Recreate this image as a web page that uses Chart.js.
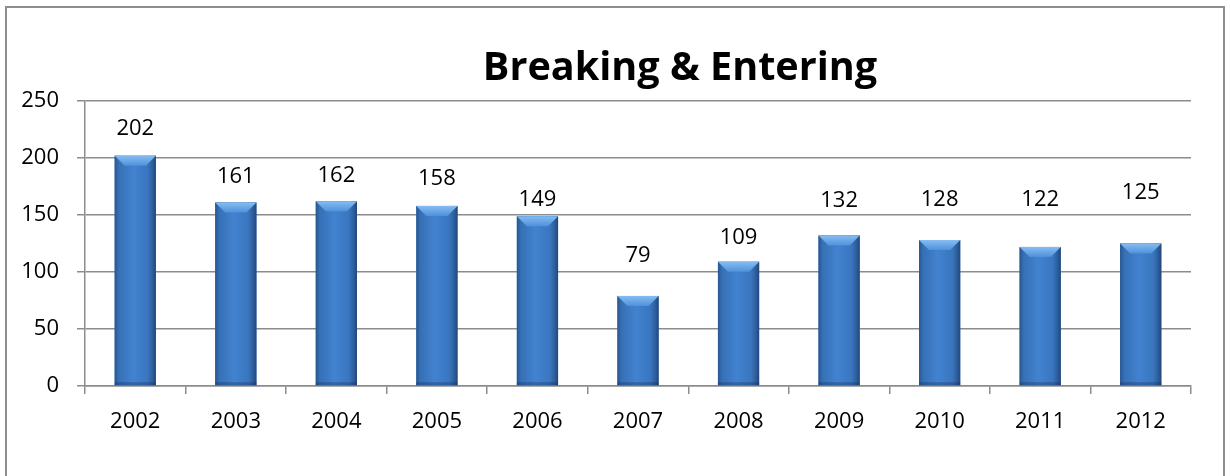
<!DOCTYPE html>
<html>
<head>
<meta charset="utf-8">
<title>Breaking & Entering</title>
<script src="https://cdn.jsdelivr.net/npm/chart.js@4.4.1/dist/chart.umd.min.js"></script>
<style>
    html, body { margin: 0; padding: 0; background: #fff; }
    #wrap { position: relative; width: 1230px; height: 476px; overflow: hidden; }
    #frame {
        position: absolute; left: 5px; top: 6px; width: 1220px; height: 490px;
        border: 2px solid #8e8e8e; box-sizing: border-box;
    }
    canvas { position: absolute; left: 0; top: 0; }
</style>
</head>
<body>
<div id="wrap">
    <div id="frame"></div>
    <canvas id="beChart" width="1230" height="476"></canvas>
</div>
<script>
// --- Data ---
const years = ['2002', '2003', '2004', '2005', '2006', '2007', '2008', '2009', '2010', '2011', '2012'];
const incidents = [202, 161, 162, 158, 149, 79, 109, 132, 128, 122, 125];
const yTicks = [0, 50, 100, 150, 200, 250];

// how far above each bar its value label sits (px), as placed in the original
const labelLift = [27, 26, 26, 27, 16, 40, 24, 35, 40, 47, 51];

const chartTitle = 'Breaking & Entering';
const baseFont = "'Open Sans', 'Noto Sans', sans-serif";

// Bevelled bar look: horizontal shading plus a lighter top facet
const barShade = {
    id: 'barShade',
    afterDatasetsDraw(chart) {
        const ctx = chart.ctx;
        chart.getDatasetMeta(0).data.forEach(bar => {
            const x0 = bar.x - bar.width / 2;
            const x1 = bar.x + bar.width / 2;
            const top = bar.y;
            const bottom = bar.base;
            const b = 10;

            const g = ctx.createLinearGradient(x0, 0, x1, 0);
            g.addColorStop(0, '#28568f');
            g.addColorStop(0.1, '#3670b6');
            g.addColorStop(0.45, '#4282cf');
            g.addColorStop(0.8, '#3a76c0');
            g.addColorStop(0.92, '#2d5e9b');
            g.addColorStop(1, '#21477a');
            ctx.save();
            ctx.fillStyle = g;
            ctx.fillRect(x0, top, x1 - x0, bottom - top);

            // top facet
            const tg = ctx.createLinearGradient(0, top, 0, top + b);
            tg.addColorStop(0, '#86bdf2');
            tg.addColorStop(1, '#4f91da');
            ctx.fillStyle = tg;
            ctx.beginPath();
            ctx.moveTo(x0, top);
            ctx.lineTo(x1, top);
            ctx.lineTo(x1 - b, top + b);
            ctx.lineTo(x0 + b, top + b);
            ctx.closePath();
            ctx.fill();

            // bottom edge, slightly darker
            ctx.fillStyle = 'rgba(20, 50, 95, 0.35)';
            ctx.fillRect(x0, bottom - 3, x1 - x0, 3);
            ctx.restore();
        });
    }
};

// Value labels above each bar
const valueLabels = {
    id: 'valueLabels',
    afterDatasetsDraw(chart) {
        const ctx = chart.ctx;
        const meta = chart.getDatasetMeta(0);
        ctx.save();
        ctx.font = `22px ${baseFont}`;
        ctx.fillStyle = '#000';
        ctx.textAlign = 'center';
        ctx.textBaseline = 'middle';
        meta.data.forEach((bar, i) => {
            ctx.fillText(String(incidents[i]), bar.x, bar.y - labelLift[i]);
        });
        ctx.restore();
    }
};

// Title, set a little right of centre as in the original
const titleText = {
    id: 'titleText',
    afterDraw(chart) {
        const ctx = chart.ctx;
        ctx.save();
        ctx.font = `bold 100px ${baseFont}`;
        const size = 100 * 394 / ctx.measureText(chartTitle).width;
        ctx.font = `bold ${size.toFixed(1)}px ${baseFont}`;
        ctx.fillStyle = '#000';
        ctx.textAlign = 'center';
        ctx.textBaseline = 'alphabetic';
        ctx.fillText(chartTitle, 680, 80);
        ctx.restore();
    }
};

document.addEventListener('DOMContentLoaded', () => {
    const ctx = document.getElementById('beChart').getContext('2d');
    new Chart(ctx, {
        type: 'bar',
        data: {
            labels: years,
            datasets: [{
                label: chartTitle,
                data: incidents,
                backgroundColor: '#3b78c0',
                borderWidth: 0,
                categoryPercentage: 1,
                barPercentage: 0.41
            }]
        },
        options: {
            responsive: false,
            animation: false,
            layout: { padding: { top: 101, right: 39, bottom: 0, left: 0 } },
            plugins: {
                legend: { display: false },
                title: { display: false },
                tooltip: { enabled: false }
            },
            scales: {
                x: {
                    offset: true,
                    grid: {
                        offset: true,
                        drawOnChartArea: false,
                        drawTicks: true,
                        tickLength: 8,
                        color: '#8c8c8c',
                        lineWidth: 1.5
                    },
                    border: { color: '#8c8c8c', width: 1.5 },
                    ticks: {
                        color: '#000',
                        font: { size: 22, family: baseFont },
                        padding: 15,
                        maxRotation: 0
                    },
                    afterFit(scale) { scale.height = 90; }
                },
                y: {
                    min: 0,
                    max: 250,
                    afterBuildTicks(scale) {
                        scale.ticks = yTicks.map(v => ({ value: v }));
                    },
                    grid: {
                        drawTicks: true,
                        tickLength: 8,
                        color: '#8c8c8c',
                        lineWidth: 1.5
                    },
                    border: { color: '#8c8c8c', width: 1.5 },
                    ticks: {
                        color: '#000',
                        font: { size: 22, family: baseFont },
                        padding: 18
                    },
                    afterFit(scale) { scale.width = 85; }
                }
            }
        },
        plugins: [barShade, valueLabels, titleText]
    });
});
</script>
</body>
</html>
